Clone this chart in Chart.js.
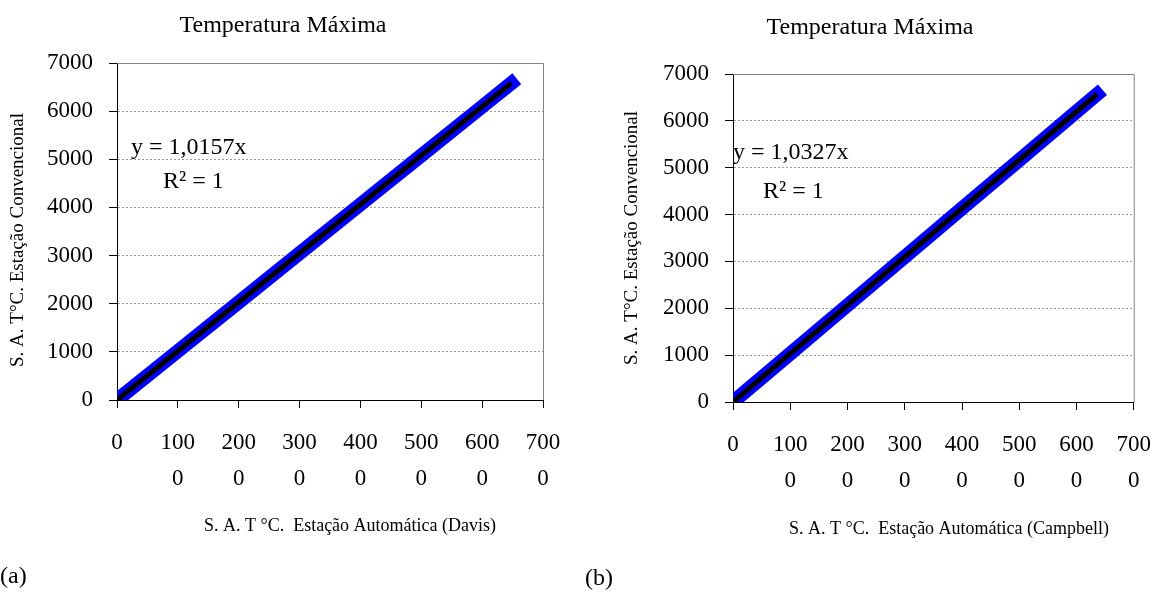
<!DOCTYPE html>
<html>
<head>
<meta charset="utf-8">
<script src="https://cdn.jsdelivr.net/npm/chart.js@4"></script>
<style>
  body { margin: 0; background: #fff; width: 1168px; height: 592px; position: relative; overflow: hidden; }
  .box { position: absolute; top: 0; width: 584px; height: 592px; }
  .tag { position: absolute; font-family: "Liberation Serif", "Times New Roman", serif; font-size: 24px; line-height: 28px; }
</style>
</head>
<body>
<div class="box" style="left:0"><canvas id="chartA"></canvas></div>
<div class="box" style="left:584px"><canvas id="chartB"></canvas></div>
<div class="tag" style="left:0; top:561px">(a)</div>
<div class="tag" style="left:585px; top:563px">(b)</div>
<script>
// eixo x: rótulos quebrados em duas linhas, como no original
var xTicks = [0, 1000, 2000, 3000, 4000, 5000, 6000, 7000];
var xTickLabels = [['0'], ['100', '0'], ['200', '0'], ['300', '0'], ['400', '0'], ['500', '0'], ['600', '0'], ['700', '0']];

// (a) Davis
var davisX = [20, 1000, 2000, 3000, 4000, 5000, 6000, 6480];
var davisY = [20, 1016, 2031, 3047, 4063, 5079, 6094, 6582];
var davisTrendX = [0, 6480];
var davisTrendY = [0, 6582];

// (b) Campbell
var campbellX = [20, 1000, 2000, 3000, 4000, 5000, 6000, 6360];
var campbellY = [21, 1033, 2065, 3098, 4131, 5164, 6196, 6568];
var campbellTrendX = [0, 6360];
var campbellTrendY = [0, 6568];

var serif = '"Liberation Serif", "Times New Roman", serif';
var yTitle = 'S. A. T\u00B0C. Esta\u00E7\u00E3o Convencional';

function pts(xs, ys) {
  return xs.map(function (x, i) { return { x: x, y: ys[i] }; });
}

// borda cinza do plot e textos (títulos, equação)
var notes = {
  id: 'notes',
  beforeDatasetsDraw: function (chart) {
    var a = chart.chartArea, ctx = chart.ctx;
    ctx.save();
    ctx.strokeStyle = '#808080';
    ctx.lineWidth = 1;
    ctx.beginPath();
    ctx.moveTo(a.left, a.top + 0.5);
    ctx.lineTo(a.right + 0.5, a.top + 0.5);
    ctx.lineTo(a.right + 0.5, a.bottom);
    ctx.stroke();
    ctx.restore();
  },
  afterDraw: function (chart, args, o) {
    var ctx = chart.ctx;
    ctx.save();
    ctx.fillStyle = '#000';
    ctx.textBaseline = 'middle';
    ctx.font = '24px ' + serif;
    ctx.textAlign = 'center';
    ctx.fillText(o.title, o.titleX, o.titleY);
    ctx.textAlign = 'left';
    ctx.fillText(o.eq, o.eqX, o.eqY);
    ctx.fillText('R\u00B2 = 1', o.rX, o.rY);
    ctx.font = '18px ' + serif;
    ctx.textAlign = 'center';
    ctx.fillText(o.xTitle, o.xTitleX, o.xTitleY);
    // título do eixo y, girado
    ctx.font = '19px ' + serif;
    ctx.translate(o.yTitleX, o.yTitleY);
    ctx.rotate(-Math.PI / 2);
    ctx.fillText(yTitle, 0, 0);
    ctx.restore();
  }
};

function makeChart(id, data, trend, o) {
  return new Chart(document.getElementById(id), {
    type: 'scatter',
    data: {
      datasets: [{
        data: trend,
        showLine: true,
        borderColor: '#000',
        borderWidth: 5,
        pointRadius: 0,
        order: 0
      }, {
        data: data,
        showLine: true,
        borderColor: '#0000ff',
        borderWidth: 14,
        borderCapStyle: 'square',
        pointRadius: 0,
        order: 1
      }]
    },
    options: {
      responsive: true,
      maintainAspectRatio: false,
      animation: false,
      layout: { padding: { top: o.top, right: o.right, left: 0, bottom: 0 } },
      plugins: {
        legend: { display: false },
        tooltip: { enabled: false },
        notes: o
      },
      scales: {
        x: {
          type: 'linear',
          min: 0, max: 7000,
          afterBuildTicks: function (s) { s.ticks = xTicks.map(function (v) { return { value: v }; }); },
          afterFit: function (s) { s.height = o.xHeight; },
          grid: { drawOnChartArea: false, tickLength: 8, tickColor: '#000' },
          border: { color: '#000', width: 1 },
          ticks: {
            autoSkip: false, maxRotation: 0, padding: 17, color: '#000',
            font: { family: serif, size: 23, lineHeight: 1.55 },
            callback: function (v, i) { return xTickLabels[i]; }
          }
        },
        y: {
          min: 0, max: 7000,
          afterFit: function (s) { s.width = o.yWidth; },
          grid: {
            color: function (c) { return c.tick && c.tick.value === 0 ? 'rgba(0,0,0,0)' : '#9a9a9a'; },
            tickLength: 8, tickColor: '#000', tickBorderDash: []
          },
          border: { color: '#000', width: 1, dash: [2, 2] },
          ticks: {
            stepSize: 1000, padding: 16, color: '#000',
            font: { family: serif, size: 23 },
            callback: function (v) { return String(v); }
          }
        }
      }
    },
    plugins: [notes]
  });
}

makeChart('chartA', pts(davisX, davisY), pts(davisTrendX, davisTrendY), {
  top: 63, right: 41, xHeight: 192, yWidth: 117,
  title: 'Temperatura M\u00E1xima', titleX: 283, titleY: 26,
  eq: 'y = 1,0157x', eqX: 131, eqY: 148, rX: 163, rY: 182,
  xTitle: 'S. A. T \u00B0C.  Esta\u00E7\u00E3o Autom\u00E1tica (Davis)', xTitleX: 350, xTitleY: 526,
  yTitleX: 18, yTitleY: 240
});

makeChart('chartB', pts(campbellX, campbellY), pts(campbellTrendX, campbellTrendY), {
  top: 74, right: 20, xHeight: 190, yWidth: 149,
  title: 'Temperatura M\u00E1xima', titleX: 286, titleY: 28,
  eq: 'y = 1,0327x', eqX: 149, eqY: 153, rX: 179, rY: 192,
  xTitle: 'S. A. T \u00B0C.  Esta\u00E7\u00E3o Autom\u00E1tica (Campbell)', xTitleX: 365, xTitleY: 529,
  yTitleX: 48, yTitleY: 238
});
</script>
</body>
</html>
